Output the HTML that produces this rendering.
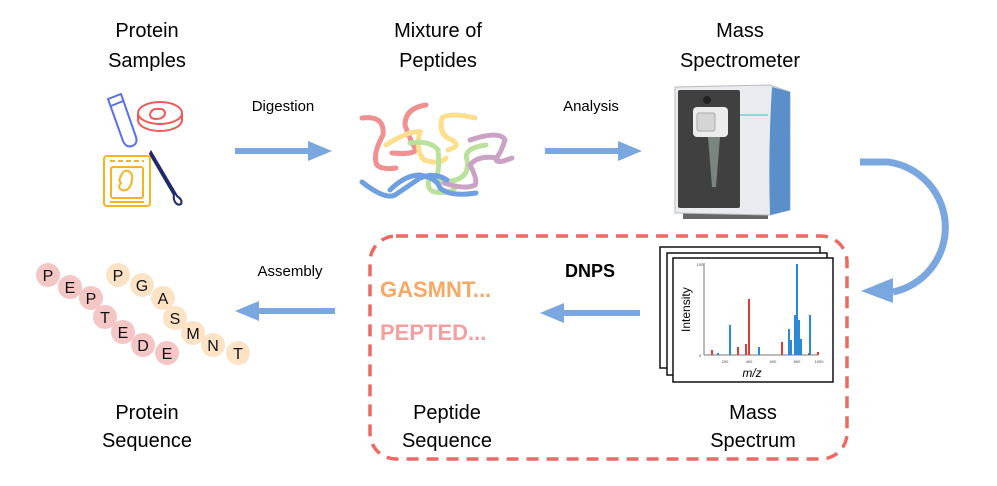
<!DOCTYPE html>
<html><head><meta charset="utf-8"><style>
body{margin:0;background:#fff;}
svg text{font-family:"Liberation Sans",Arial,sans-serif;}
</style></head><body>
<svg width="997" height="481" viewBox="0 0 997 481" xmlns="http://www.w3.org/2000/svg">
<defs>
<marker id="ah" markerWidth="4" markerHeight="4" refX="1" refY="2" orient="auto" markerUnits="strokeWidth"><path d="M0,0 L4,2 L0,4 Z" fill="#7ba7e0"/></marker>
</defs>
<!-- titles -->
<g font-size="20" text-anchor="middle" fill="#000">
<text x="147" y="37">Protein</text><text x="147" y="67">Samples</text>
<text x="438" y="37">Mixture of</text><text x="438" y="67">Peptides</text>
<text x="740" y="37">Mass</text><text x="740" y="67">Spectrometer</text>
<text x="147" y="419">Protein</text><text x="147" y="447">Sequence</text>
<text x="447" y="419">Peptide</text><text x="447" y="447">Sequence</text>
<text x="753" y="419">Mass</text><text x="753" y="447">Spectrum</text>
</g>
<g font-size="15" text-anchor="middle">
<text x="283" y="111">Digestion</text>
<text x="591" y="111">Analysis</text>
<text x="290" y="276">Assembly</text>
</g>
<text x="590" y="277" font-size="18" font-weight="bold" text-anchor="middle">DNPS</text>
<text x="380" y="297" font-size="22" font-weight="bold" fill="#f6a964">GASMNT...</text>
<text x="380" y="340" font-size="22" font-weight="bold" fill="#f2a0a0">PEPTED...</text>

<!-- arrows -->
<g stroke="#7ba7e0" stroke-width="6" fill="none">
<line x1="235" y1="151" x2="310" y2="151"/>
<line x1="545" y1="151" x2="620" y2="151"/>
<line x1="640" y1="313" x2="562" y2="313"/>
<line x1="335" y1="311" x2="257" y2="311"/>
<path d="M860,162 L888,162 A66,66 0 0 1 893,292" stroke-width="7"/>
</g>
<g fill="#7ba7e0">
<path d="M332,151 L308,141 L308,161 Z"/>
<path d="M642,151 L618,141 L618,161 Z"/>
<path d="M540,313 L564,303 L564,323 Z"/>
<path d="M235,311 L259,301 L259,321 Z"/>
<path d="M861,291 L893,278 L893,303 Z"/>
</g>

<!-- dashed box -->
<rect x="370" y="236" width="477" height="223" rx="26" fill="none" stroke="#ec6a63" stroke-width="3.5" stroke-dasharray="12,8"/>

<!-- sample icons -->
<g fill="none" stroke-width="2">
<g stroke="#5a70e6"><path d="M108,99 L121,94 L136,137 Q138,144 132,146 Q126,148 123,141 Z"/><line x1="111" y1="106" x2="123" y2="101"/></g>
<g stroke="#ef5a56"><ellipse cx="160" cy="113" rx="22" ry="11"/><path d="M138,113 L138,120 A22,11 0 0 0 182,120 L182,113"/><path d="M150,114 Q152,108 158,109 Q165,108 165,114 Q163,119 156,119 Q150,119 150,114Z"/></g>
<g stroke="#f6b420"><rect x="104" y="156" width="46" height="50" rx="3"/><rect x="111" y="167" width="32" height="31" rx="2"/><path d="M121,176 Q124,168 130,172 Q134,176 131,184 Q128,192 122,190 Q117,188 121,183 Q118,180 121,176Z"/><line x1="110" y1="161" x2="144" y2="161" stroke-dasharray="5,3"/><line x1="110" y1="202" x2="144" y2="202"/></g>
<g stroke="#1f2a6b"><path d="M151,152 L177,196 Q183,200 181,204 Q178,206 175,202 Q173,198 174,195 L150,154 Z"/></g>
</g>

<!-- peptides squiggles -->
<g fill="none" stroke-width="5" stroke-linecap="round" opacity="0.75">
<path d="M362,118 Q385,115 383,135 Q372,155 377,165 Q382,170 396,168" stroke="#ec6b6b"/>
<path d="M426,105 Q405,108 405,125 Q410,140 415,148 Q418,155 392,153" stroke="#ec6b6b"/>
<path d="M386,145 Q410,130 420,132 Q415,150 424,160 Q440,165 446,158" stroke="#fdd366"/>
<path d="M475,118 Q450,112 442,118 Q438,135 452,140 Q462,146 448,150" stroke="#fdd366"/>
<path d="M410,143 Q430,140 438,150 Q440,165 437,175 Q433,185 456,180 Q470,175 467,160 Q463,148 486,145" stroke="#a6d87d"/>
<path d="M430,175 Q425,190 435,192 Q450,194 455,188" stroke="#a6d87d"/>
<path d="M470,140 Q500,130 505,140 Q500,155 496,158 Q495,165 512,158" stroke="#b984b0"/>
<path d="M497,158 Q478,155 470,165 Q478,180 475,185 Q465,190 444,183" stroke="#b984b0"/>
<path d="M362,182 Q385,200 395,195 Q410,185 420,178 Q435,172 447,180" stroke="#3e80d8"/>
<path d="M390,190 Q405,175 420,175 Q437,178 440,188 Q450,197 476,193" stroke="#3e80d8"/>
</g>

<!-- mass spectrometer -->
<rect x="683" y="210" width="85" height="9" fill="#666"/>
<path d="M675,87 L770,85 L790,92 L790,210 L770,215 L675,213 Z" fill="#e9ebee" stroke="#bbb"/>
<rect x="678" y="90" width="62" height="118" rx="2" fill="#404040"/>
<path d="M772,87 L790,92 L790,210 L770,215 Q768,150 772,87Z" fill="#5b8fc9"/>
<rect x="693" y="107" width="35" height="30" rx="4" fill="#ececec"/>
<rect x="697" y="113" width="18" height="18" rx="2" fill="#d5d5d5" stroke="#aaa"/>
<path d="M708,137 L720,137 L716,187 L712,187 Z" fill="#7a8580"/>
<circle cx="707" cy="100" r="4" fill="#222"/>
<line x1="740" y1="115" x2="768" y2="115" stroke="#4bb" stroke-width="1"/>

<!-- spectrum -->
<g fill="#fff" stroke="#111" stroke-width="1.5">
<rect x="660" y="247" width="160" height="121"/>
<rect x="667" y="253" width="160" height="122"/>
<rect x="673" y="258" width="160" height="124"/>
</g>
<line x1="704" y1="263" x2="704" y2="355" stroke="#777" stroke-width="1"/>
<line x1="704" y1="355" x2="818" y2="355" stroke="#777" stroke-width="1"/>
<text x="690" y="332" font-size="12" transform="rotate(-90 690 332)">Intensity</text>
<text x="752" y="377" font-size="12" font-style="italic" text-anchor="middle">m/z</text>
<g font-size="4" fill="#444" text-anchor="middle"><text x="725" y="363">200</text><text x="749" y="363">400</text><text x="773" y="363">600</text><text x="797" y="363">800</text><text x="819" y="363">1000</text><text x="700" y="266">100</text><text x="700" y="357">0</text></g>
<g fill="#e03a3a"><rect x="711" y="350" width="2" height="5"/><rect x="737" y="347" width="2" height="8"/><rect x="748" y="299" width="2" height="56"/><rect x="745" y="344" width="2" height="11"/><rect x="781" y="342" width="2" height="13"/><rect x="808" y="353" width="2" height="2"/><rect x="817" y="352" width="2" height="3"/></g>
<g fill="#2b8ad6"><rect x="729" y="325" width="2" height="30"/><rect x="758" y="347" width="2" height="8"/><rect x="788" y="329" width="2" height="26"/><rect x="790" y="340" width="2" height="15"/><rect x="794" y="315" width="2" height="40"/><rect x="796" y="264" width="2" height="91"/><rect x="798" y="320" width="2" height="35"/><rect x="800" y="339" width="2" height="16"/><rect x="809" y="315" width="2" height="40"/><rect x="717" y="353" width="2" height="2"/></g>

<!-- sequence beads -->
<g font-size="16" text-anchor="middle">
<g fill="#f5c6c6">
<circle cx="48" cy="275" r="12"/><circle cx="70" cy="287" r="12"/><circle cx="91" cy="298" r="12"/><circle cx="105" cy="317" r="12"/><circle cx="123" cy="332" r="12"/><circle cx="143" cy="345" r="12"/><circle cx="167" cy="353" r="12"/>
</g>
<g fill="#fde3c6">
<circle cx="118" cy="275" r="12"/><circle cx="142" cy="285" r="12"/><circle cx="163" cy="298" r="12"/><circle cx="175" cy="318" r="12"/><circle cx="193" cy="333" r="12"/><circle cx="213" cy="345" r="12"/><circle cx="238" cy="353" r="12"/>
</g>
<g fill="#111">
<text x="48" y="281">P</text><text x="70" y="293">E</text><text x="91" y="304">P</text><text x="105" y="323">T</text><text x="123" y="338">E</text><text x="143" y="351">D</text><text x="167" y="359">E</text>
<text x="118" y="281">P</text><text x="142" y="291">G</text><text x="163" y="304">A</text><text x="175" y="324">S</text><text x="193" y="339">M</text><text x="213" y="351">N</text><text x="238" y="359">T</text>
</g>
</g>
</svg>
</body></html>
